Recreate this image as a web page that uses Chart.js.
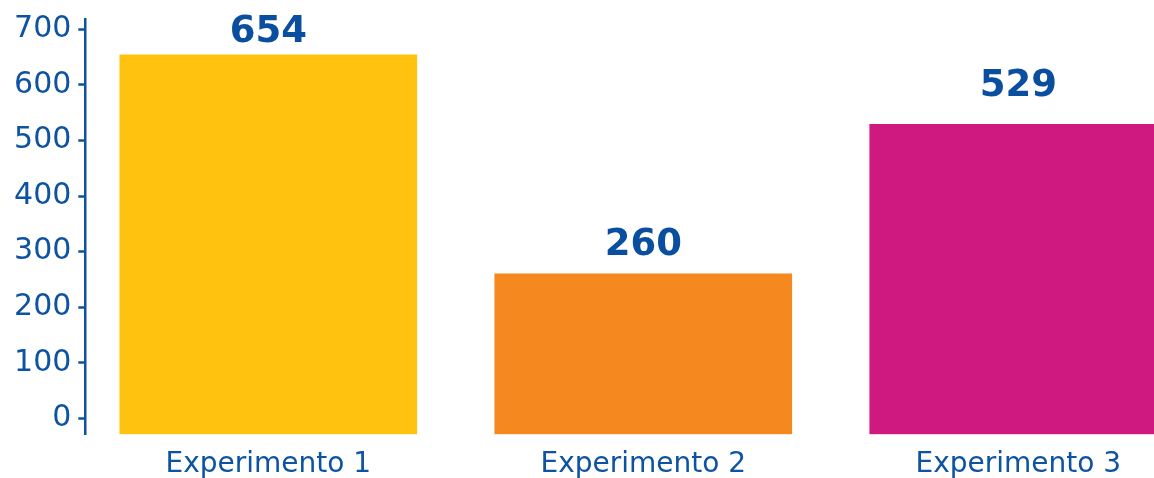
<!DOCTYPE html>
<html>
<head>
<meta charset="utf-8">
<script src="https://cdn.jsdelivr.net/npm/chart.js@4"></script>
<style>
  html, body { margin: 0; padding: 0; background: #ffffff; }
  #wrap { position: relative; width: 1154px; height: 478px; overflow: hidden; }
</style>
</head>
<body>
<div id="wrap"><canvas id="c"></canvas></div>
<script>
// Chart data
const CATEGORIES = ['Experimento 1', 'Experimento 2', 'Experimento 3'];
const VALUES = [654, 260, 529];
const BAR_COLORS = ['#FFC20E', '#F5881F', '#CF1880'];
const Y_TICK_STEP = 100;

// Axis ranges (value axis starts a little below zero, bars grow from its floor)
const Y_MIN = -28.4;
const Y_MAX = 718.5;
const X_MIN = -0.488;
const X_MAX = 2.362;

const BLUE = '#0D53A2';
const LABEL_BLUE = '#0A4E9F';

// Draws the value above each bar
const valueLabels = {
  id: 'valueLabels',
  afterDatasetsDraw(chart, args, opts) {
    const { ctx } = chart;
    const meta = chart.getDatasetMeta(0);
    ctx.save();
    ctx.font = opts.font;
    ctx.fillStyle = opts.color;
    ctx.textAlign = 'center';
    ctx.textBaseline = 'alphabetic';
    meta.data.forEach((bar, i) => {
      const v = chart.data.datasets[0].data[i].y;
      ctx.fillText(String(v), bar.x, bar.y - opts.offsets[i]);
    });
    ctx.restore();
  }
};

new Chart(document.getElementById('c'), {
  type: 'bar',
  data: {
    datasets: [{
      data: VALUES.map((v, i) => ({ x: i, y: v })),
      backgroundColor: BAR_COLORS,
      borderWidth: 0,
      barThickness: 297,
      base: Y_MIN
    }]
  },
  options: {
    responsive: true,
    maintainAspectRatio: false,
    devicePixelRatio: 1,
    animation: false,
    layout: { autoPadding: false, padding: { top: 19, left: 0, right: 0, bottom: 0 } },
    plugins: {
      legend: { display: false },
      tooltip: { enabled: false },
      valueLabels: {
        font: 'bold 37px "DejaVu Sans"',
        color: LABEL_BLUE,
        offsets: [13, 19, 28]
      }
    },
    scales: {
      x: {
        type: 'linear',
        position: 'bottom',
        offset: false,
        min: X_MIN,
        max: X_MAX,
        grid: { display: false, drawTicks: false },
        border: { display: false },
        afterFit(scale) { scale.height = 43.7; },
        ticks: {
          stepSize: 1,
          includeBounds: false,
          autoSkip: false,
          maxRotation: 0,
          padding: 14,
          color: BLUE,
          font: { family: '"DejaVu Sans"', size: 28 },
          callback: (v) => CATEGORIES[v] ?? ''
        }
      },
      y: {
        min: Y_MIN,
        max: Y_MAX,
        afterFit(scale) {
          scale.width = 85.3;
          scale.paddingTop = 0;
          scale.paddingBottom = 0;
        },
        grid: {
          drawOnChartArea: false,
          drawTicks: true,
          tickLength: 7,
          tickWidth: 2.5,
          tickColor: BLUE
        },
        border: { display: true, color: BLUE, width: 2.5 },
        ticks: {
          stepSize: Y_TICK_STEP,
          includeBounds: false,
          padding: 7,
          color: BLUE,
          font: { family: '"DejaVu Sans"', size: 30, lineHeight: 0.6 }
        }
      }
    }
  },
  plugins: [valueLabels]
});
</script>
</body>
</html>
